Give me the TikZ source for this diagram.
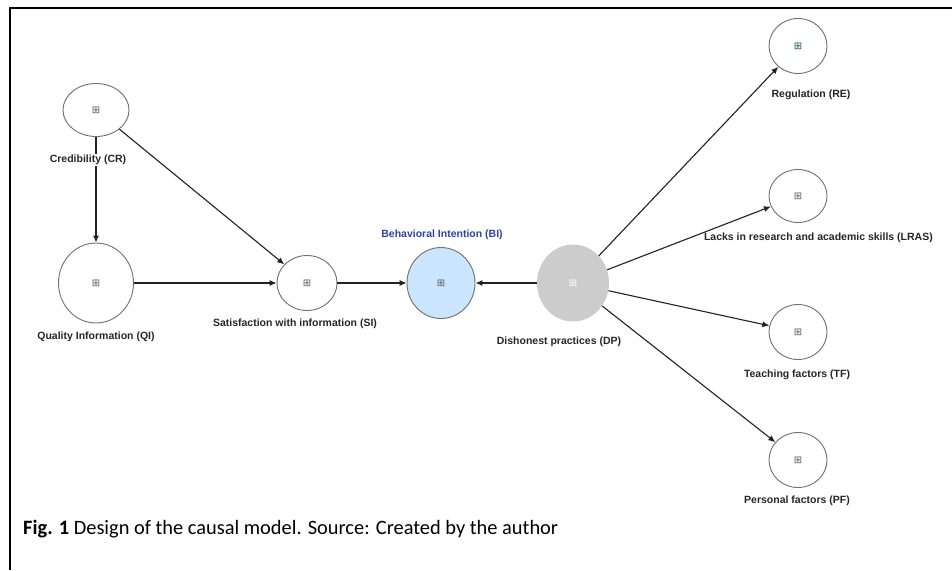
\documentclass[tikz,border=0pt]{standalone}
\usepackage{fontspec}
\setmainfont{Liberation Sans}
\newfontfamily\capfont{Carlito}
\newfontfamily\symfont{DejaVu Sans}
\usetikzlibrary{shapes.geometric,arrows.meta}
\definecolor{strokegray}{HTML}{707070}
\definecolor{bifill}{HTML}{CCE5FF}
\definecolor{dpfill}{HTML}{CCCCCC}
\definecolor{biblue}{HTML}{2E43A8}
\definecolor{arrowcol}{HTML}{222222}
\tikzset{
  latent/.style={ellipse, draw=strokegray, line width=0.9pt, inner sep=0pt, fill=white},
  lbl/.style={font=\bfseries\fontsize{10.5}{12}\selectfont, text=black!85, inner sep=1pt},
  plus/.style={font=\symfont\fontsize{10}{10}\selectfont, text=black!65, inner sep=0pt},
  arr/.style={draw=arrowcol, line width=1.1pt, -{Latex[length=7pt,width=6pt]}},
}
\begin{document}
\begin{tikzpicture}[x=1pt,y=-1pt]
\useasboundingbox (0,0) rectangle (952,570);
\fill[white] (0,0) rectangle (952,570);
% frame
\draw[line width=2.8pt] (10,570) -- (10,8) -- (952,8);

% nodes
\node[latent, minimum width=66pt, minimum height=53pt] (cr) at (96,110) {};
\node[latent, minimum width=75pt, minimum height=80pt] (qi) at (96,283) {};
\node[latent, minimum width=60pt, minimum height=55pt] (si) at (307,283) {};
\node[latent, fill=bifill, minimum width=68pt, minimum height=71pt] (bi) at (441,283) {};
\node[ellipse, fill=dpfill, inner sep=0pt, minimum width=72pt, minimum height=77pt] (dp) at (573,283) {};
\node[latent, minimum width=58pt, minimum height=55pt] (re) at (798,46) {};
\node[latent, minimum width=58pt, minimum height=53pt] (lras) at (798,196) {};
\node[latent, minimum width=58pt, minimum height=55pt] (tf) at (798,332) {};
\node[latent, minimum width=58pt, minimum height=55pt] (pf) at (798,460) {};

% plus icons
\node[plus] (pcr) at (cr.center) {⊞};
\node[plus] (pqi) at (qi.center) {⊞};
\node[plus] (psi) at (si.center) {⊞};
\node[plus] (pbi) at (bi.center) {⊞};
\node[plus, text=white] (pdp) at (dp.center) {⊞};
\node[plus, text=teal!70!black] (pre) at (re.center) {⊞};
\node[plus] (plras) at (lras.center) {⊞};
\node[plus] (ptf) at (tf.center) {⊞};
\node[plus] (ppf) at (pf.center) {⊞};

% connectors
\draw[arr] (cr) -- (qi);
\draw[arr] (cr) -- (si);
\draw[arr] (qi) -- (si);
\draw[arr] (si) -- (bi);
\draw[arr] (dp) -- (bi);
\draw[arr] (dp) -- (re);
\draw[arr] (dp) -- (lras);
\draw[arr] (dp) -- (tf);
\draw[arr] (dp) -- (pf);

% labels
\node[lbl, fill=white] (lcr) at (88,160) {Credibility (CR)};
\node[lbl] (lqi) at (96,337) {Quality Information (QI)};
\node[lbl] (lsi) at (295,324) {Satisfaction with information (SI)};
\node[lbl, text=biblue] (lbi) at (442,235) {Behavioral Intention (BI)};
\node[lbl] (ldp) at (559,342) {Dishonest practices (DP)};
\node[lbl] (lre) at (811,95) {Regulation (RE)};
\node[lbl, anchor=east] (llras) at (934,238) {Lacks in research and academic skills (LRAS)};
\node[lbl] (ltf) at (797,375) {Teaching factors (TF)};
\node[lbl] (lpf) at (797,501) {Personal factors (PF)};

% caption
\node[anchor=west, inner sep=0pt, font=\capfont\fontsize{20.4}{24}\selectfont] (cap) at (23,529) {\textbf{Fig. 1} Design of the causal model. Source: Created by the author};
\end{tikzpicture}
\end{document}
